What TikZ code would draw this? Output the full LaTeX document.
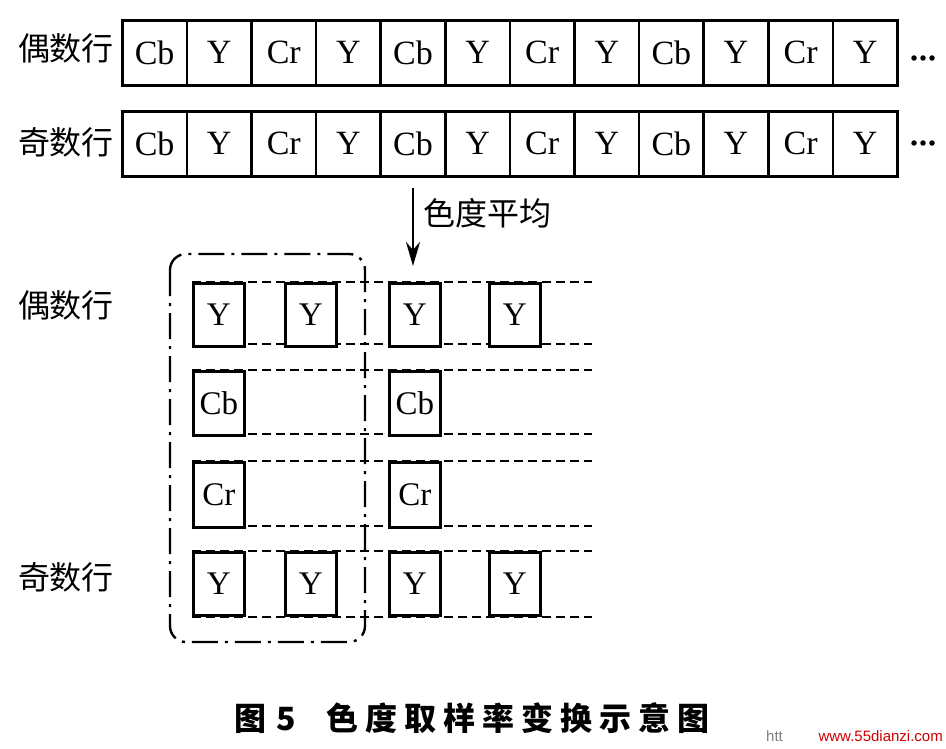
\documentclass[tikz,border=0pt]{standalone}
\usepackage{fontspec}
\setmainfont{Liberation Serif}
\newfontfamily\cjk{Noto Sans CJK SC}
\newfontfamily\cjkcap[LetterSpace=22]{Noto Sans CJK SC}
\newfontfamily\wm{Liberation Sans}
\usetikzlibrary{arrows.meta}
\begin{document}
\begin{tikzpicture}[x=1pt,y=-1pt,
  cell/.style={draw,line width=2.6pt,minimum width=64.6pt,minimum height=65pt,inner sep=0pt,anchor=north west,font=\fontsize{34}{34}\selectfont},
  sbox/.style={draw,line width=2.8pt,fill=white,minimum width=51pt,minimum height=62pt,inner sep=0pt,anchor=north west,font=\fontsize{33}{33}\selectfont},
  rowlab/.style={font=\cjk\fontsize{32}{32}\selectfont,inner sep=0pt},
  dline/.style={line width=2.6pt,dash pattern=on 9pt off 5pt},
  ddline/.style={line width=2.4pt,dash pattern=on 26pt off 7pt on 3pt off 7pt,rounded corners=16pt},
  dot/.style={circle,fill,inner sep=0pt,minimum size=5.5pt}
]
\useasboundingbox (0,0) rectangle (946,749);
% ---------- top rows ----------
\node[rowlab] (ev1) at (66,48) {偶数行};
\node[rowlab] (od1) at (66,142) {奇数行};
\foreach \r/\yy in {1/19,2/110}{
  \foreach \t [count=\i] in {Cb,Y,Cr,Y,Cb,Y,Cr,Y,Cb,Y,Cr,Y}{
    \node[cell] (t\r c\i) at ({121+(\i-1)*64.6},\yy) {\t};
  }
}
\foreach \r/\yy in {1/58,2/143}{
  \node[dot] (d\r a) at (914,\yy) {};
  \node[dot] (d\r b) at (923,\yy) {};
  \node[dot] (d\r c) at (932,\yy) {};
}
% ---------- arrow ----------
\coordinate (as) at (413,188);
\coordinate (ae) at (413,266);
\draw[line width=2.6pt,-{Stealth[length=24pt,width=14pt]}] (as) -- (ae);
\node[rowlab,anchor=west] (avg) at (423,213) {色度平均};
% ---------- bottom ----------
\node[rowlab] (ev2) at (66,305) {偶数行};
\node[rowlab] (od2) at (66,577) {奇数行};
\foreach \n/\yt/\yb in {a/282/344,b/370/434,c/461/526,d/551/617}{
  \coordinate (\n l1) at (192,\yt); \coordinate (\n r1) at (592,\yt);
  \coordinate (\n l2) at (192,\yb); \coordinate (\n r2) at (592,\yb);
  \draw[dline] (\n l1) -- (\n r1);
  \draw[dline] (\n l2) -- (\n r2);
}
\coordinate (bb1) at (170,254);
\coordinate (bb2) at (365,642);
\draw[ddline] (bb1) rectangle (bb2);
\foreach \n/\yt in {a/282,d/551}{
  \foreach \xx/\k in {192/1,284/2,388/3,488/4}{
    \node[sbox,minimum height=63pt] (s\n\k) at (\xx,\yt) {Y};
  }
}
\node[sbox,minimum height=64pt] (sb1) at (192,370) {Cb};
\node[sbox,minimum height=64pt] (sb3) at (388,370) {Cb};
\node[sbox,minimum height=65pt] (sc1) at (192,461) {Cr};
\node[sbox,minimum height=65pt] (sc3) at (388,461) {Cr};
% ---------- caption ----------
\node[font=\cjkcap\bfseries\fontsize{32}{32}\selectfont,inner sep=0pt] (cap) at (472,718) {图\hspace{10pt}5\hspace{30pt}色度取样率变换示意图};
\node[font=\wm\fontsize{15}{15}\selectfont,text=gray,inner sep=0pt,anchor=west] (wm1) at (766,736) {htt};
\node[font=\wm\fontsize{15}{15}\selectfont,text=red!80!black,inner sep=0pt,anchor=east] (wm2) at (943,736) {www.55dianzi.com};
\end{tikzpicture}
\end{document}
